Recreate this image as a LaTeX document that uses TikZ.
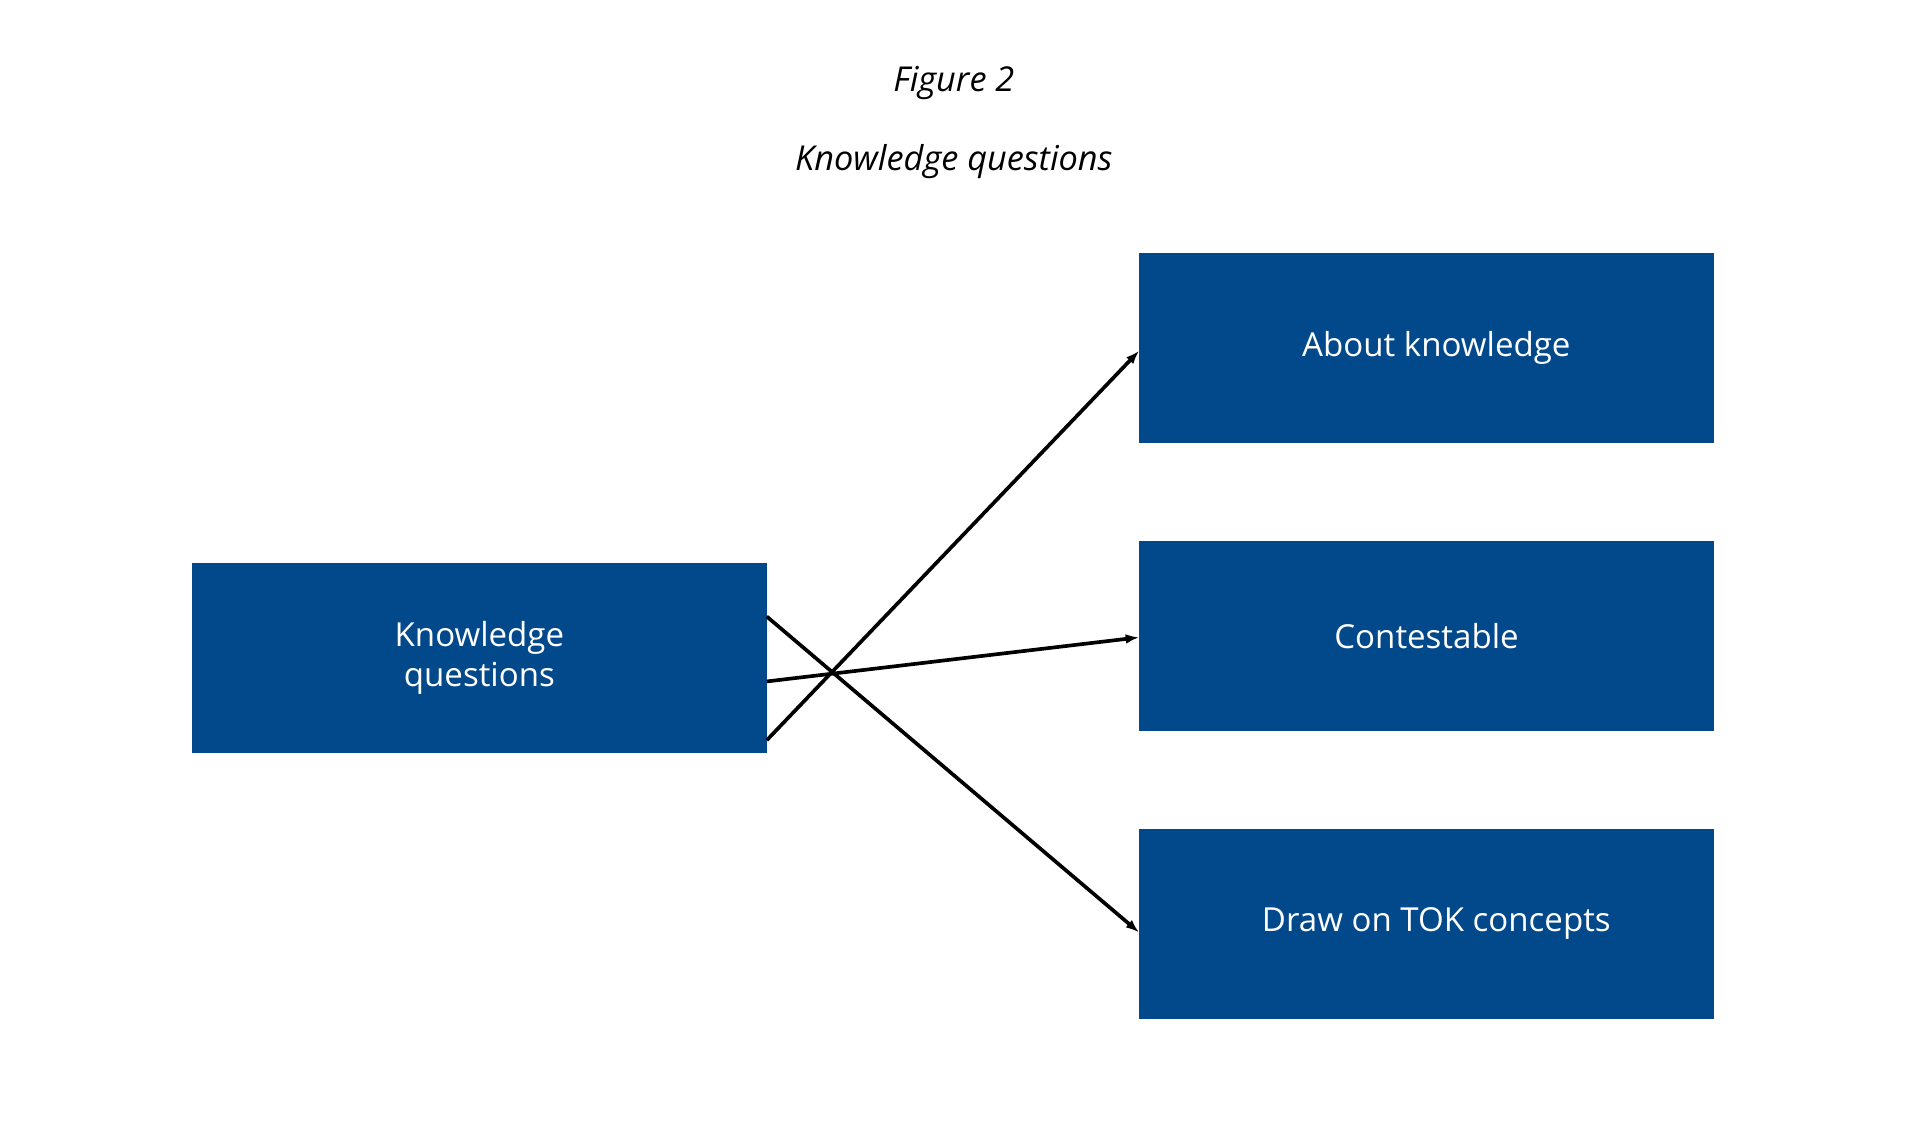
\documentclass[tikz,border=0pt]{standalone}
\usepackage{fontspec}
\setmainfont{Open Sans}
\definecolor{boxblue}{HTML}{02498C}
\begin{document}
\begin{tikzpicture}[x=1pt,y=-1pt,
  box/.style={fill=boxblue,draw=none,minimum width=469pt,minimum height=155pt,inner sep=0pt,text=white,font=\fontsize{27}{33}\selectfont,align=center},
  arr/.style={line width=3pt,-{Latex[length=11pt,width=8pt]}},
  ttl/.style={font=\fontsize{28}{34}\selectfont\itshape}]
\usetikzlibrary{arrows.meta}
\useasboundingbox (0,0) rectangle (1568,924);
\node[ttl] (t1) at (779,68) {Figure 2};
\node[ttl] (t2) at (779,132) {Knowledge questions};
\node[box] (kq) at (391.5,537.5) {Knowledge\\questions};
\node[box] (ak) at (1165,284.5) {\hspace*{16pt}About knowledge};
\node[box] (ct) at (1165,519.5) {Contestable};
\node[box] (dt) at (1165,754.5) {\hspace*{16pt}Draw on TOK concepts};
\draw[arr] ([yshift=-67pt]kq.east) -- ([yshift=-2pt]ak.west);
\draw[arr] ([yshift=-19pt]kq.east) -- ([yshift=-1pt]ct.west);
\draw[arr] ([yshift=34pt]kq.east) -- ([yshift=-7pt]dt.west);
\end{tikzpicture}
\end{document}
